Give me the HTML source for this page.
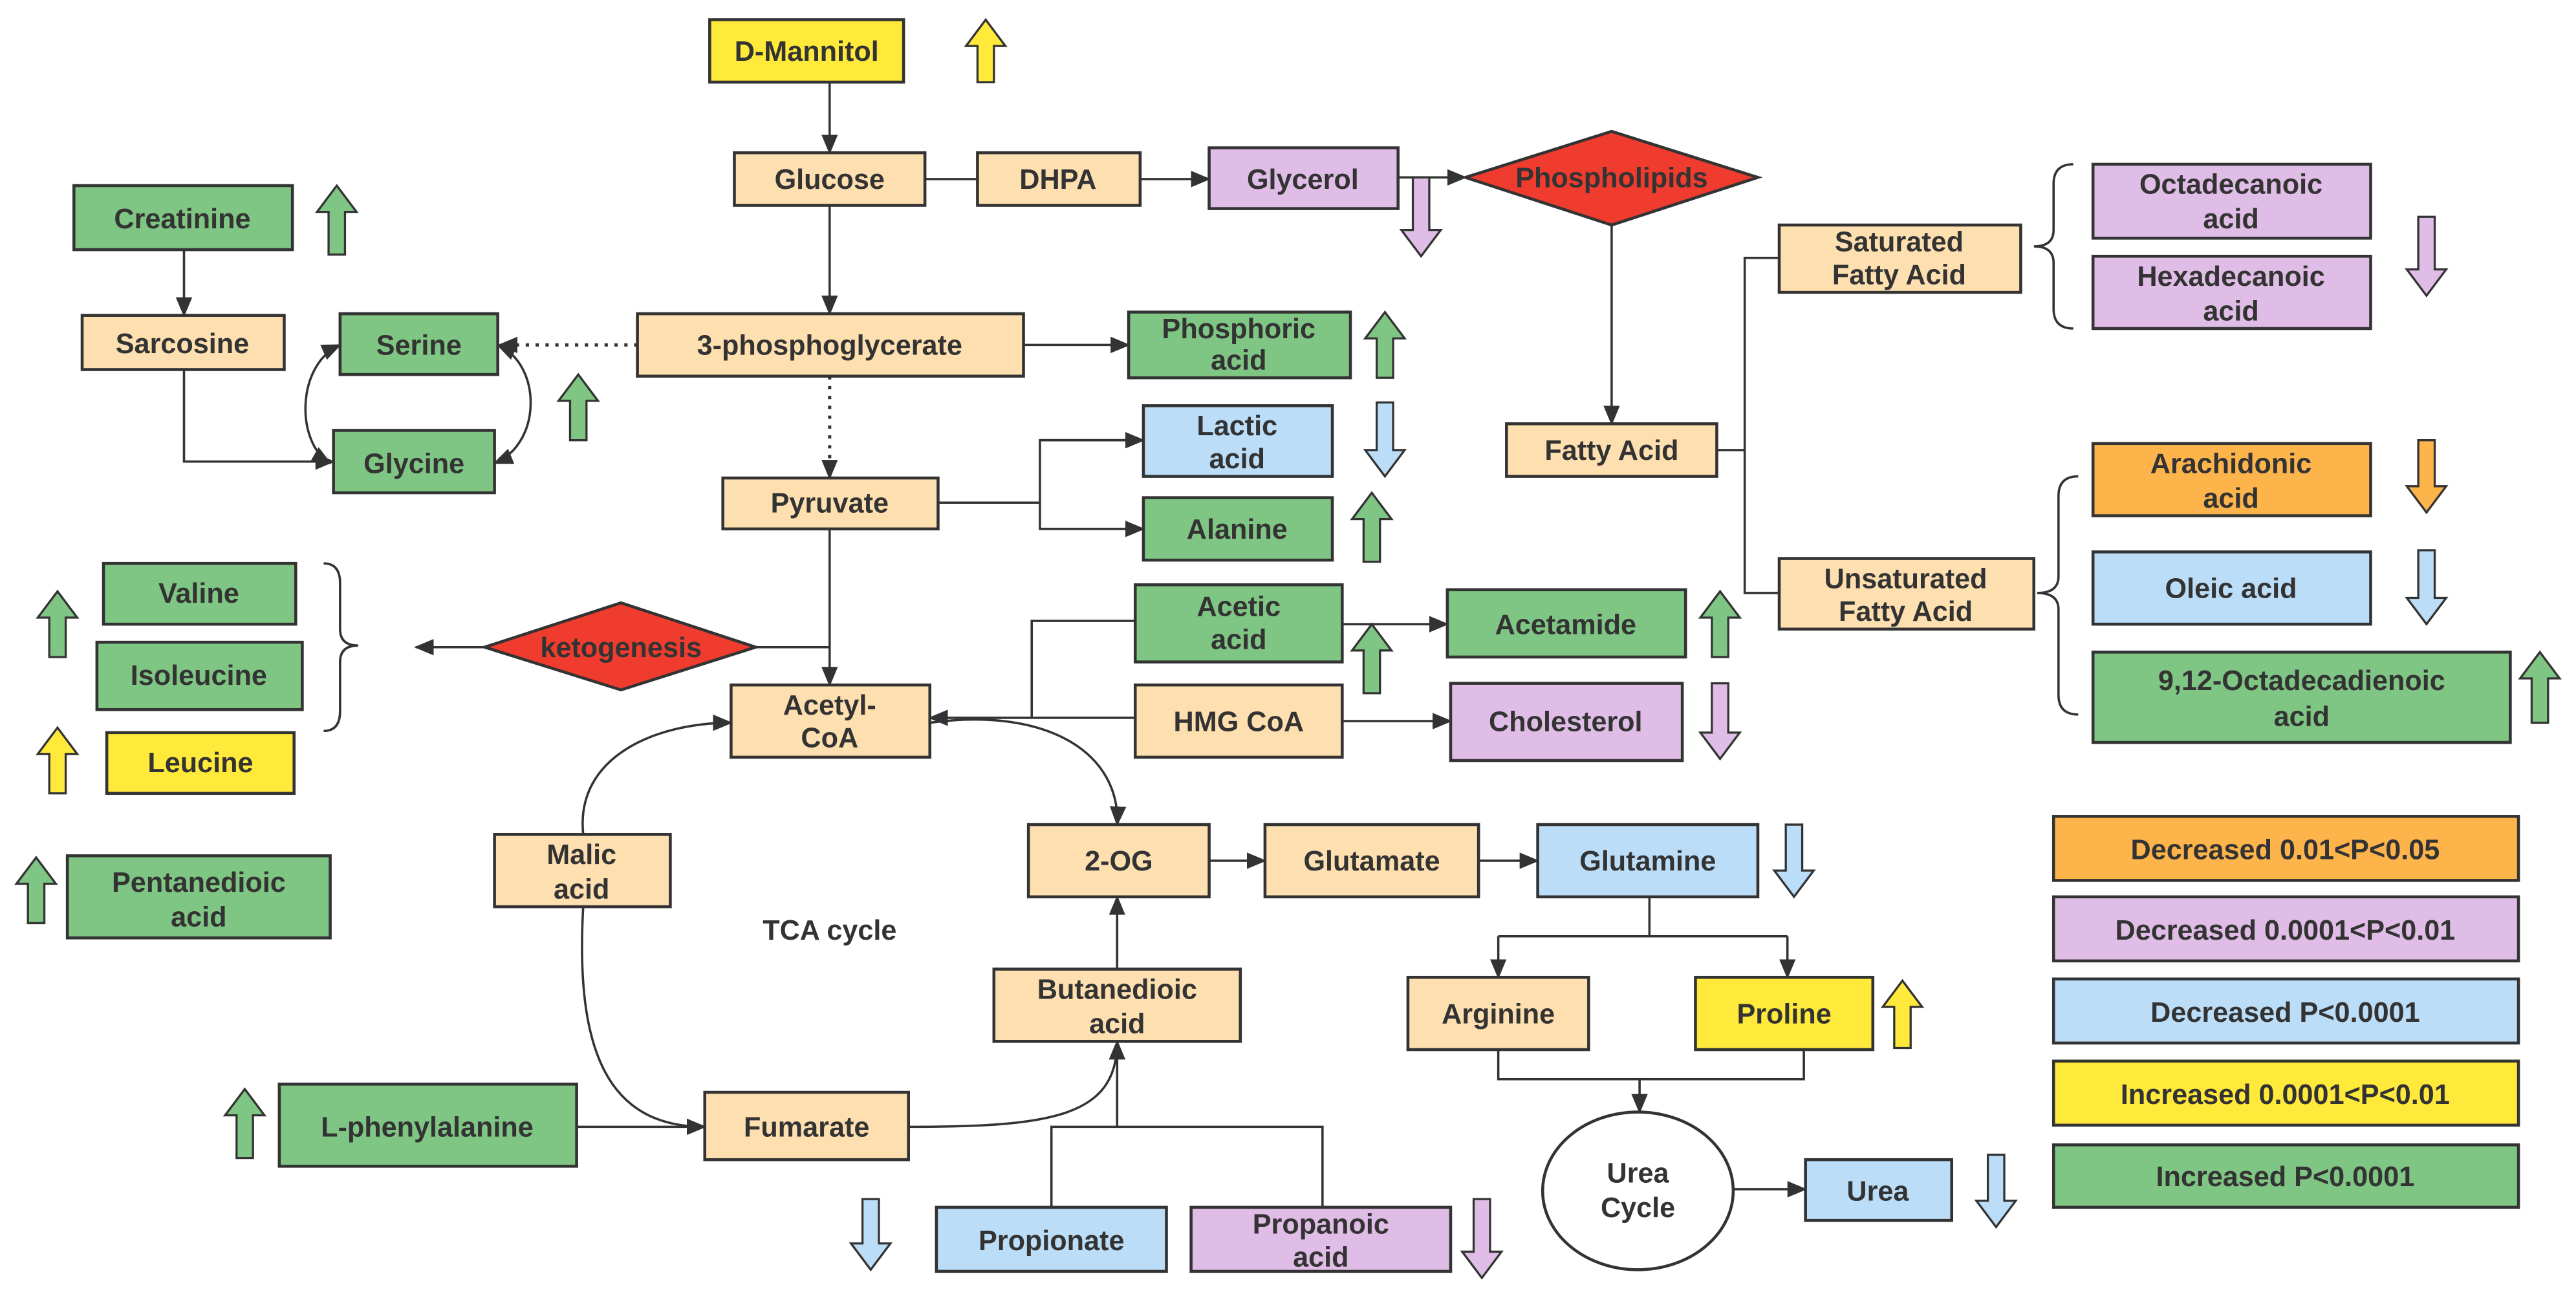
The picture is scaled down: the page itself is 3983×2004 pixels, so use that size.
<!DOCTYPE html>
<html><head><meta charset="utf-8"><style>
html,body{margin:0;padding:0;background:#fff;}
svg{display:block}
text{font-family:"Liberation Sans",sans-serif;font-weight:bold;font-size:17px;fill:#333;text-anchor:middle;}
.b{stroke:#333;stroke-width:1.8;}
.l{stroke:#333;stroke-width:1.4;fill:none;}
.ba{stroke:#333;stroke-width:1.3;}
.pe{fill:#FDDFB0}.gr{fill:#7FC583}.ye{fill:#FFE93A}.li{fill:#E0BDE6}.bl{fill:#BBDDF7}.or{fill:#FDB44B}
</style></head><body>
<svg width="3983" height="2004" viewBox="0 0 1568 789" preserveAspectRatio="none" xmlns="http://www.w3.org/2000/svg">
<defs>
<marker id="a" markerUnits="userSpaceOnUse" markerWidth="12" markerHeight="10" refX="11" refY="5" orient="auto"><path d="M0,0 L12,5 L0,10 Z" fill="#333"/></marker>
<marker id="s" markerUnits="userSpaceOnUse" markerWidth="12" markerHeight="10" refX="1" refY="5" orient="auto"><path d="M12,0 L0,5 L12,10 Z" fill="#333"/></marker>
</defs>

<!-- connectors -->
<g class="l">
<line x1="505" y1="50" x2="505" y2="93" marker-end="url(#a)"/>
<line x1="563" y1="109" x2="595" y2="109"/>
<line x1="694" y1="109" x2="736" y2="109" marker-end="url(#a)"/>
<line x1="851" y1="108" x2="892" y2="108" marker-end="url(#a)"/>
<line x1="505" y1="125" x2="505" y2="191" marker-end="url(#a)"/>
<line x1="112" y1="152" x2="112" y2="192" marker-end="url(#a)"/>
<polyline points="112,225 112,281 203,281" marker-end="url(#a)"/>
<path d="M201,282 C180,270 180,222 207,210" marker-start="url(#s)" marker-end="url(#a)"/>
<path d="M303,210 C330,222 330,270 301,282" marker-start="url(#s)" marker-end="url(#a)"/>
<line x1="388" y1="210" x2="304" y2="210" stroke-dasharray="2,4" stroke-width="2" marker-end="url(#a)"/>
<line x1="505" y1="229" x2="505" y2="291" stroke-dasharray="2,4" stroke-width="2" marker-end="url(#a)"/>
<line x1="623" y1="210" x2="687" y2="210" marker-end="url(#a)"/>
<line x1="571" y1="306" x2="633" y2="306"/>
<polyline points="696,268 633,268 633,322 696,322"/>
<line x1="633" y1="268" x2="696" y2="268" marker-end="url(#a)"/>
<line x1="633" y1="322" x2="696" y2="322" marker-end="url(#a)"/>
<line x1="505" y1="322" x2="505" y2="417" marker-end="url(#a)"/>
<line x1="460" y1="394" x2="505" y2="394"/>
<line x1="295" y1="394" x2="253" y2="394" marker-end="url(#a)"/>
<line x1="981" y1="137" x2="981" y2="258" marker-end="url(#a)"/>
<line x1="1045" y1="274" x2="1062" y2="274"/>
<polyline points="1083,157 1062,157 1062,361 1083,361"/>
<polyline points="691,378 628,378 628,437"/>
<line x1="691" y1="437" x2="566" y2="437" marker-end="url(#a)"/>
<line x1="817" y1="380" x2="881" y2="380" marker-end="url(#a)"/>
<line x1="817" y1="439" x2="883" y2="439" marker-end="url(#a)"/>
<path d="M566,440 C640,430 682,460 680,502" marker-end="url(#a)"/>
<path d="M355,508 C350,460 400,440 445,440" marker-end="url(#a)"/>
<path d="M355,552 C350,640 370,686 429,686" marker-end="url(#a)"/>
<line x1="351" y1="686" x2="429" y2="686" marker-end="url(#a)"/>
<path d="M553,686 C640,686 680,680 680,634" marker-end="url(#a)"/>
<polyline points="640,735 640,686 805,686 805,735"/>
<line x1="680" y1="686" x2="680" y2="634" marker-end="url(#a)"/>
<line x1="680" y1="590" x2="680" y2="546" marker-end="url(#a)"/>
<line x1="736" y1="524" x2="770" y2="524" marker-end="url(#a)"/>
<line x1="900" y1="524" x2="936" y2="524" marker-end="url(#a)"/>
<line x1="1004" y1="546" x2="1004" y2="570"/>
<line x1="912" y1="570" x2="1088" y2="570"/>
<line x1="912" y1="570" x2="912" y2="595" marker-end="url(#a)"/>
<line x1="1088" y1="570" x2="1088" y2="595" marker-end="url(#a)"/>
<polyline points="912,639 912,657 1098,657 1098,639"/>
<line x1="998" y1="657" x2="998" y2="677" marker-end="url(#a)"/>
<line x1="1055" y1="724" x2="1099" y2="724" marker-end="url(#a)"/>
<path d="M1262,100 Q1250,100 1250,112 L1250,140 Q1250,150 1238,150 Q1250,150 1250,160 L1250,188 Q1250,200 1262,200"/>
<path d="M1265,290 Q1253,290 1253,302 L1253,351 Q1253,361 1240,361 Q1253,361 1253,371 L1253,423 Q1253,435 1265,435"/>
<path d="M197,343 Q207,343 207,355 L207,383 Q207,393 218,393 Q207,393 207,403 L207,433 Q207,445 197,445"/>
</g>

<!-- boxes -->
<g class="b">
<rect class="ye" x="432" y="12" width="118" height="38"/>
<rect class="pe" x="447" y="93" width="116" height="32"/>
<rect class="pe" x="595" y="93" width="99" height="32"/>
<rect class="li" x="736" y="90" width="115" height="37"/>
<polygon fill="#F03C2E" points="892,108 981,80 1070,108 981,137"/>
<rect class="gr" x="45" y="113" width="133" height="39"/>
<rect class="pe" x="50" y="192" width="123" height="33"/>
<rect class="gr" x="207" y="191" width="96" height="37"/>
<rect class="gr" x="203" y="262" width="98" height="38"/>
<rect class="pe" x="388" y="191" width="235" height="38"/>
<rect class="gr" x="687" y="190" width="135" height="40"/>
<rect class="pe" x="1083" y="137" width="147" height="41"/>
<rect class="li" x="1274" y="100" width="169" height="45"/>
<rect class="li" x="1274" y="156" width="169" height="44"/>
<rect class="bl" x="696" y="247" width="115" height="43"/>
<rect class="gr" x="696" y="303" width="115" height="38"/>
<rect class="pe" x="440" y="291" width="131" height="31"/>
<rect class="pe" x="917" y="258" width="128" height="32"/>
<rect class="or" x="1274" y="270" width="169" height="44"/>
<rect class="bl" x="1274" y="336" width="169" height="44"/>
<rect class="gr" x="1274" y="397" width="254" height="55"/>
<rect class="pe" x="1083" y="340" width="155" height="43"/>
<rect class="gr" x="63" y="343" width="117" height="37"/>
<rect class="gr" x="59" y="391" width="125" height="41"/>
<rect class="ye" x="65" y="446" width="114" height="37"/>
<polygon fill="#F03C2E" points="295,394 378,367 460,394 378,420"/>
<rect class="gr" x="41" y="521" width="160" height="50"/>
<rect class="gr" x="691" y="356" width="126" height="47"/>
<rect class="gr" x="881" y="359" width="145" height="41"/>
<rect class="pe" x="445" y="417" width="121" height="44"/>
<rect class="pe" x="691" y="417" width="126" height="44"/>
<rect class="li" x="883" y="416" width="141" height="47"/>
<rect class="pe" x="301" y="508" width="107" height="44"/>
<rect class="pe" x="626" y="502" width="110" height="44"/>
<rect class="pe" x="770" y="502" width="130" height="44"/>
<rect class="bl" x="936" y="502" width="134" height="44"/>
<rect class="pe" x="605" y="590" width="150" height="44"/>
<rect class="pe" x="857" y="595" width="110" height="44"/>
<rect class="ye" x="1032" y="595" width="108" height="44"/>
<rect class="gr" x="170" y="660" width="181" height="50"/>
<rect class="pe" x="429" y="665" width="124" height="41"/>
<ellipse fill="#fff" cx="997" cy="725" rx="58" ry="48"/>
<rect class="bl" x="1099" y="706" width="89" height="37"/>
<rect class="bl" x="570" y="735" width="140" height="39"/>
<rect class="li" x="725" y="735" width="158" height="39"/>
<rect class="or" x="1250" y="497" width="283" height="39"/>
<rect class="li" x="1250" y="546" width="283" height="39"/>
<rect class="bl" x="1250" y="596" width="283" height="39"/>
<rect class="ye" x="1250" y="646" width="283" height="39"/>
<rect class="gr" x="1250" y="697" width="283" height="38"/>
</g>

<!-- block arrows -->
<g class="ba">
<path class="ye" d="M600,12 L612,28 L605,28 L605,50 L595,50 L595,28 L588,28Z"/>
<path class="li" d="M865,156 L877,140 L870,140 L870,108 L860,108 L860,140 L853,140Z"/>
<path class="gr" d="M205,113 L217,129 L210,129 L210,155 L200,155 L200,129 L193,129Z"/>
<path class="gr" d="M352,228 L364,244 L357,244 L357,268 L347,268 L347,244 L340,244Z"/>
<path class="gr" d="M843,190 L855,206 L848,206 L848,230 L838,230 L838,206 L831,206Z"/>
<path class="li" d="M1477,180 L1489,164 L1482,164 L1482,132 L1472,132 L1472,164 L1465,164Z"/>
<path class="bl" d="M843,290 L855,274 L848,274 L848,245 L838,245 L838,274 L831,274Z"/>
<path class="gr" d="M835,300 L847,316 L840,316 L840,342 L830,342 L830,316 L823,316Z"/>
<path class="or" d="M1477,312 L1489,296 L1482,296 L1482,268 L1472,268 L1472,296 L1465,296Z"/>
<path class="bl" d="M1477,380 L1489,364 L1482,364 L1482,335 L1472,335 L1472,364 L1465,364Z"/>
<path class="gr" d="M1546,397 L1558,413 L1551,413 L1551,440 L1541,440 L1541,413 L1534,413Z"/>
<path class="gr" d="M35,360 L47,376 L40,376 L40,400 L30,400 L30,376 L23,376Z"/>
<path class="ye" d="M35,443 L47,459 L40,459 L40,483 L30,483 L30,459 L23,459Z"/>
<path class="gr" d="M22,522 L34,538 L27,538 L27,562 L17,562 L17,538 L10,538Z"/>
<path class="gr" d="M835,380 L847,396 L840,396 L840,422 L830,422 L830,396 L823,396Z"/>
<path class="gr" d="M1047,360 L1059,376 L1052,376 L1052,400 L1042,400 L1042,376 L1035,376Z"/>
<path class="li" d="M1047,462 L1059,446 L1052,446 L1052,416 L1042,416 L1042,446 L1035,446Z"/>
<path class="bl" d="M1092,546 L1104,530 L1097,530 L1097,502 L1087,502 L1087,530 L1080,530Z"/>
<path class="ye" d="M1158,597 L1170,613 L1163,613 L1163,638 L1153,638 L1153,613 L1146,613Z"/>
<path class="gr" d="M149,663 L161,679 L154,679 L154,705 L144,705 L144,679 L137,679Z"/>
<path class="bl" d="M1215,747 L1227,731 L1220,731 L1220,703 L1210,703 L1210,731 L1203,731Z"/>
<path class="bl" d="M530,773 L542,757 L535,757 L535,730 L525,730 L525,757 L518,757Z"/>
<path class="li" d="M902,778 L914,762 L907,762 L907,730 L897,730 L897,762 L890,762Z"/>
</g>

<!-- labels -->
<text x="491" y="37">D-Mannitol</text>
<text x="505" y="115">Glucose</text>
<text x="644" y="115">DHPA</text>
<text x="793" y="115">Glycerol</text>
<text x="981" y="114">Phospholipids</text>
<text x="111" y="139">Creatinine</text>
<text x="111" y="215">Sarcosine</text>
<text x="255" y="216">Serine</text>
<text x="252" y="288">Glycine</text>
<text x="505" y="216">3-phosphoglycerate</text>
<text x="754" y="206">Phosphoric</text><text x="754" y="225">acid</text>
<text x="1156" y="153">Saturated</text><text x="1156" y="173">Fatty Acid</text>
<text x="1358" y="118">Octadecanoic</text><text x="1358" y="139">acid</text>
<text x="1358" y="174">Hexadecanoic</text><text x="1358" y="195">acid</text>
<text x="753" y="265">Lactic</text><text x="753" y="285">acid</text>
<text x="753" y="328">Alanine</text>
<text x="505" y="312">Pyruvate</text>
<text x="981" y="280">Fatty Acid</text>
<text x="1358" y="288">Arachidonic</text><text x="1358" y="309">acid</text>
<text x="1358" y="364">Oleic acid</text>
<text x="1401" y="420">9,12-Octadecadienoic</text><text x="1401" y="442">acid</text>
<text x="1160" y="358">Unsaturated</text><text x="1160" y="378">Fatty Acid</text>
<text x="121" y="367">Valine</text>
<text x="121" y="417">Isoleucine</text>
<text x="122" y="470">Leucine</text>
<text x="378" y="400">ketogenesis</text>
<text x="121" y="543">Pentanedioic</text><text x="121" y="564">acid</text>
<text x="754" y="375">Acetic</text><text x="754" y="395">acid</text>
<text x="953" y="386">Acetamide</text>
<text x="505" y="435">Acetyl-</text><text x="505" y="455">CoA</text>
<text x="754" y="445">HMG CoA</text>
<text x="953" y="445">Cholesterol</text>
<text x="354" y="526">Malic</text><text x="354" y="547">acid</text>
<text x="681" y="530">2-OG</text>
<text x="835" y="530">Glutamate</text>
<text x="1003" y="530">Glutamine</text>
<text x="505" y="572">TCA  cycle</text>
<text x="680" y="608">Butanedioic</text><text x="680" y="629">acid</text>
<text x="912" y="623">Arginine</text>
<text x="1086" y="623">Proline</text>
<text x="260" y="692">L-phenylalanine</text>
<text x="491" y="692">Fumarate</text>
<text x="997" y="720">Urea</text><text x="997" y="741">Cycle</text>
<text x="1143" y="731">Urea</text>
<text x="640" y="761">Propionate</text>
<text x="804" y="751">Propanoic</text><text x="804" y="771">acid</text>
<text x="1391" y="523">Decreased 0.01&lt;P&lt;0.05</text>
<text x="1391" y="572">Decreased 0.0001&lt;P&lt;0.01</text>
<text x="1391" y="622">Decreased P&lt;0.0001</text>
<text x="1391" y="672">Increased  0.0001&lt;P&lt;0.01</text>
<text x="1391" y="722">Increased  P&lt;0.0001</text>
</svg>
</body></html>
